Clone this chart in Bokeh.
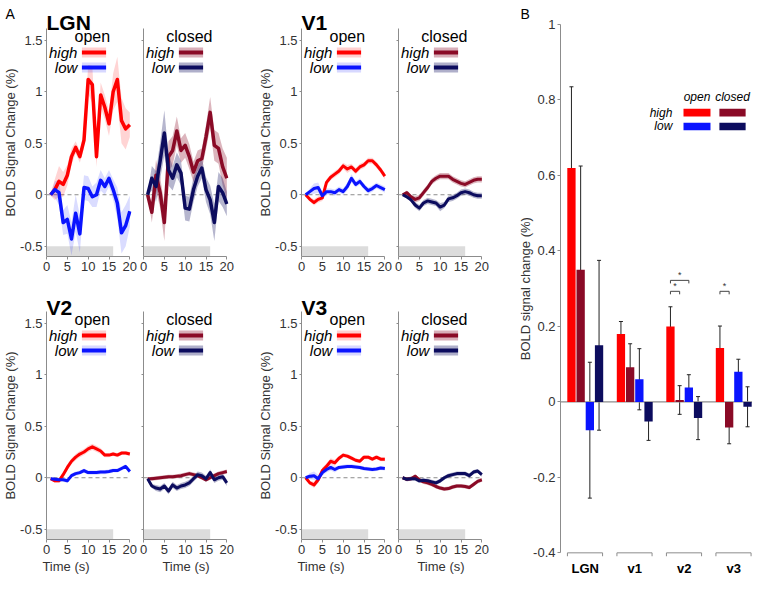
import math
from bokeh.plotting import figure
from bokeh.layouts import row, column
from bokeh.models import (Range1d, FixedTicker, CustomJSTickFormatter,
                          ColumnDataSource, Whisker, TeeHead)
from bokeh.embed import file_html
from bokeh.resources import INLINE
from bokeh.core.properties import value

FONT = "Liberation Sans"

# ---------------- data: time courses (panel A) ----------------
TIME = list(range(1, 21))
STIM_ON = [0, 16]
X_TICKS = [0, 5, 10, 15, 20]
Y_TICKS = [-0.5, 0, 0.5, 1, 1.5]

lgn_open_high = [0, 0.05, 0.13, 0.10, 0.19, 0.37, 0.46, 0.37, 0.53, 1.12, 1.07, 0.37, 0.97, 0.85, 0.69, 1.00, 1.12, 0.72, 0.64, 0.68]
lgn_open_high_sem = [0.01, 0.10, 0.15, 0.12, 0.10, 0.08, 0.06, 0.06, 0.08, 0.14, 0.18, 0.10, 0.12, 0.12, 0.12, 0.18, 0.22, 0.22, 0.20, 0.12]
lgn_open_low = [0, 0.05, 0.02, -0.27, -0.24, -0.43, -0.18, -0.38, 0.07, 0.06, -0.02, 0.00, 0.14, 0.08, 0.16, 0.05, -0.08, -0.37, -0.30, -0.16]
lgn_open_low_sem = [0.01, 0.08, 0.12, 0.12, 0.14, 0.16, 0.18, 0.18, 0.12, 0.12, 0.10, 0.12, 0.10, 0.08, 0.08, 0.10, 0.15, 0.20, 0.20, 0.15]
lgn_closed_high = [0, -0.17, 0.19, 0.02, -0.27, 0.37, 0.43, 0.62, 0.43, 0.48, 0.37, 0.22, 0.33, 0.35, 0.56, 0.80, 0.48, 0.45, 0.27, 0.16]
lgn_closed_high_sem = [0.01, 0.10, 0.15, 0.15, 0.18, 0.15, 0.14, 0.14, 0.12, 0.12, 0.12, 0.10, 0.10, 0.10, 0.12, 0.15, 0.15, 0.15, 0.18, 0.20]
lgn_closed_low = [0, 0.16, 0.08, 0.33, 0.60, 0.24, 0.16, 0.29, 0.21, -0.13, -0.14, 0.05, 0.18, 0.26, 0.05, -0.05, -0.27, 0.08, 0.02, -0.09]
lgn_closed_low_sem = [0.01, 0.12, 0.15, 0.18, 0.22, 0.15, 0.12, 0.12, 0.12, 0.12, 0.12, 0.12, 0.10, 0.10, 0.12, 0.14, 0.18, 0.14, 0.14, 0.12]

v1_open_high = [0, -0.045, -0.075, -0.045, -0.03, 0.12, 0.17, 0.20, 0.23, 0.28, 0.25, 0.27, 0.23, 0.27, 0.29, 0.33, 0.33, 0.29, 0.24, 0.18]
v1_open_high_sem = [0.01, 0.02, 0.03, 0.03, 0.03, 0.03, 0.03, 0.03, 0.03, 0.03, 0.04, 0.03, 0.03, 0.03, 0.03, 0.03, 0.03, 0.03, 0.03, 0.03]
v1_open_low = [0, 0.03, 0.06, 0.07, -0.01, 0.03, 0.03, 0.02, 0.05, 0.03, 0.08, 0.16, 0.10, 0.13, 0.08, 0.04, 0.06, 0.09, 0.07, 0.05]
v1_open_low_sem = [0.01, 0.03, 0.05, 0.05, 0.04, 0.03, 0.03, 0.03, 0.03, 0.03, 0.04, 0.04, 0.03, 0.03, 0.03, 0.03, 0.03, 0.03, 0.03, 0.03]
v1_closed_high = [0, 0.02, -0.02, -0.045, -0.03, 0.02, 0.07, 0.13, 0.16, 0.18, 0.18, 0.18, 0.15, 0.13, 0.11, 0.10, 0.12, 0.14, 0.15, 0.15]
v1_closed_high_sem = [0.01, 0.02, 0.02, 0.03, 0.03, 0.03, 0.03, 0.03, 0.03, 0.03, 0.03, 0.03, 0.03, 0.03, 0.03, 0.03, 0.03, 0.03, 0.03, 0.03]
v1_closed_low = [0, -0.02, -0.05, -0.10, -0.13, -0.08, -0.06, -0.07, -0.08, -0.12, -0.10, -0.04, -0.03, -0.01, 0.02, 0.03, 0.02, 0.00, -0.01, -0.01]
v1_closed_low_sem = [0.01, 0.02, 0.02, 0.03, 0.03, 0.03, 0.03, 0.03, 0.03, 0.04, 0.03, 0.03, 0.03, 0.03, 0.03, 0.03, 0.03, 0.03, 0.03, 0.03]

v2_open_high = [-0.01, -0.03, -0.03, 0.03, 0.10, 0.16, 0.20, 0.23, 0.25, 0.28, 0.30, 0.28, 0.26, 0.22, 0.22, 0.23, 0.22, 0.24, 0.24, 0.23]
v2_open_high_sem = [0.01, 0.02, 0.02, 0.02, 0.03, 0.03, 0.03, 0.03, 0.03, 0.03, 0.03, 0.03, 0.03, 0.02, 0.02, 0.02, 0.02, 0.02, 0.02, 0.02]
v2_open_low = [-0.01, -0.015, -0.02, -0.02, -0.03, 0.02, 0.04, 0.05, 0.07, 0.05, 0.05, 0.05, 0.055, 0.055, 0.06, 0.07, 0.07, 0.09, 0.11, 0.06]
v2_open_low_sem = [0.01, 0.02, 0.02, 0.02, 0.02, 0.02, 0.02, 0.02, 0.02, 0.02, 0.02, 0.02, 0.02, 0.02, 0.02, 0.02, 0.02, 0.02, 0.02, 0.02]
v2_closed_high = [-0.01, -0.01, -0.005, 0.0, 0.005, 0.01, 0.01, 0.015, 0.02, 0.03, 0.04, 0.03, 0.02, 0.0, -0.02, 0.0, 0.02, 0.04, 0.05, 0.06]
v2_closed_high_sem = [0.01, 0.02, 0.02, 0.02, 0.02, 0.02, 0.02, 0.02, 0.02, 0.02, 0.02, 0.02, 0.02, 0.02, 0.02, 0.02, 0.02, 0.02, 0.02, 0.02]
v2_closed_low = [-0.01, -0.08, -0.10, -0.11, -0.08, -0.13, -0.07, -0.10, -0.08, -0.07, -0.05, -0.01, 0.03, 0.02, -0.01, 0.05, -0.02, 0.0, 0.01, -0.05]
v2_closed_low_sem = [0.01, 0.02, 0.03, 0.03, 0.03, 0.03, 0.03, 0.03, 0.03, 0.03, 0.03, 0.03, 0.03, 0.03, 0.03, 0.03, 0.03, 0.03, 0.03, 0.03]

v3_open_high = [0, -0.05, -0.07, -0.02, 0.07, 0.11, 0.16, 0.145, 0.19, 0.22, 0.21, 0.19, 0.17, 0.16, 0.20, 0.20, 0.18, 0.20, 0.18, 0.18]
v3_open_high_sem = [0.01, 0.02, 0.03, 0.03, 0.03, 0.03, 0.03, 0.03, 0.02, 0.02, 0.02, 0.02, 0.02, 0.02, 0.02, 0.02, 0.02, 0.02, 0.02, 0.02]
v3_open_low = [0, 0.015, 0.02, -0.01, 0.05, 0.08, 0.10, 0.08, 0.10, 0.105, 0.11, 0.11, 0.105, 0.10, 0.09, 0.085, 0.08, 0.085, 0.095, 0.09]
v3_open_low_sem = [0.01, 0.03, 0.04, 0.04, 0.03, 0.03, 0.03, 0.03, 0.02, 0.02, 0.02, 0.02, 0.02, 0.02, 0.02, 0.02, 0.02, 0.02, 0.02, 0.02]
v3_closed_high = [0, -0.015, -0.01, 0.015, -0.02, -0.04, -0.05, -0.065, -0.085, -0.10, -0.11, -0.105, -0.09, -0.08, -0.08, -0.085, -0.095, -0.065, -0.035, -0.02]
v3_closed_high_sem = [0.01, 0.02, 0.02, 0.02, 0.02, 0.02, 0.02, 0.02, 0.02, 0.02, 0.02, 0.02, 0.02, 0.02, 0.02, 0.02, 0.02, 0.02, 0.02, 0.02]
v3_closed_low = [0, -0.015, -0.01, -0.01, -0.03, -0.025, -0.03, -0.04, -0.05, -0.03, 0.0, 0.02, 0.03, 0.04, 0.04, 0.04, 0.02, 0.055, 0.065, 0.03]
v3_closed_low_sem = [0.01, 0.02, 0.02, 0.02, 0.02, 0.02, 0.02, 0.02, 0.02, 0.02, 0.02, 0.02, 0.02, 0.02, 0.02, 0.02, 0.02, 0.02, 0.02, 0.02]

# ---------------- data: bar chart (panel B) ----------------
REGIONS = ["LGN", "v1", "v2", "v3"]
open_high = [0.62, 0.18, 0.20, 0.143]
open_high_err = [0.215, 0.033, 0.052, 0.058]
closed_high = [0.35, 0.092, 0.005, -0.068]
closed_high_err = [0.275, 0.062, 0.038, 0.043]
open_low = [-0.075, 0.06, 0.038, 0.08]
open_low_err = [0.18, 0.081, 0.034, 0.033]
closed_low = [0.15, -0.052, -0.043, -0.013]
closed_low_err = [0.225, 0.05, 0.057, 0.053]
B_Y_TICKS = [-0.4, -0.2, 0, 0.2, 0.4, 0.6, 0.8, 1]
# significance brackets: (region index, bar a, bar b, height)
SIG = [(2, 0, 1, 0.293), (2, 0, 2, 0.322), (3, 0, 1, 0.293)]

C_OPEN_HIGH = "#ff0000"
C_CLOSED_HIGH = "#8a0a26"
C_OPEN_LOW = "#0a14ff"
C_CLOSED_LOW = "#0c0c5e"
AXIS_C = "#8c8c8c"
TXT_C = "#333333"

# ---------------- geometry of the small panels ----------------
Y_BOT = -0.6
Y_SPINE_TOP = 1.615
X_END = 20.4
PXU = 85 / X_END                      # px per second
PXY = 228 / (Y_SPINE_TOP - Y_BOT)     # px per % signal
LEFT_AX = 46                          # px left of the y axis (open panels)
TOP_GAP = 28                          # px above the top of the y axis
COND_DY = 8                           # px below axis top: "open"/"closed"
LEG_DY = [24, 39]                     # px below axis top: "high"/"low" rows


def style_axes(p):
    for ax in list(p.xaxis) + list(p.yaxis):
        ax.axis_line_color = AXIS_C
        ax.major_tick_line_color = AXIS_C
        ax.minor_tick_line_color = None
        ax.minor_tick_out = 0
        ax.minor_tick_in = 0
        ax.major_tick_in = 0
        ax.major_label_text_font = FONT
        ax.major_label_text_font_size = "13px"
        ax.major_label_text_color = TXT_C
        ax.axis_label_text_font = FONT
        ax.axis_label_text_font_size = "13px"
        ax.axis_label_text_color = TXT_C
        ax.axis_label_text_font_style = "normal"


def txt(p, x, y, s, size, style="normal", align="left", baseline="alphabetic",
        color="black", angle=0.0):
    p.text(x=[x], y=[y], text=[s], text_align=align, text_baseline=baseline,
           text_font=value(FONT), text_font_size=size, text_font_style=style,
           text_color=color, angle=angle)


def time_panel(region, cond, hi, hi_sem, lo, lo_sem, c_hi, c_lo, a_hi, a_lo,
               lw, bottom_row, is_open, right_border, letter=None):
    y_top = Y_SPINE_TOP + TOP_GAP / PXY
    x_left = -LEFT_AX / PXU if is_open else 0
    p = figure(frame_width=int(round((X_END - x_left) * PXU)),
               frame_height=int(round((y_top - Y_BOT) * PXY)),
               min_border_left=0 if is_open else 5,
               min_border_right=right_border,
               min_border_top=0,
               min_border_bottom=37 if bottom_row else 27,
               x_range=Range1d(x_left, X_END), y_range=Range1d(Y_BOT, y_top),
               output_backend="svg", toolbar_location=None, tools="")
    p.grid.visible = False
    p.outline_line_color = None
    p.quad(left=[STIM_ON[0]], right=[STIM_ON[1]], bottom=[Y_BOT], top=[-0.5],
           fill_color="#dcdcdc", line_color=None)
    p.line([X_TICKS[0], X_TICKS[-1]], [0, 0], line_color=AXIS_C, line_dash="4 3", line_width=1)
    for m, s, c, a in ((hi, hi_sem, c_hi, a_hi), (lo, lo_sem, c_lo, a_lo)):
        p.varea(x=TIME, y1=[v - e for v, e in zip(m, s)],
                y2=[v + e for v, e in zip(m, s)], fill_color=c, fill_alpha=a)
    for m, c in ((hi, c_hi), (lo, c_lo)):
        p.line(TIME, m, line_color=c, line_width=lw, line_join="round")
    # legend
    leg_x = [8.5, 14.3]
    for dy, c, a, t in ((LEG_DY[0], c_hi, a_hi, "high"), (LEG_DY[1], c_lo, a_lo, "low")):
        y = Y_SPINE_TOP - dy / PXY
        p.line(leg_x, [y, y], line_color=c, line_alpha=min(1, a * 1.1), line_width=10)
        p.line(leg_x, [y, y], line_color=c, line_width=4)
        txt(p, 7.4, y, t, "15px", style="italic", align="right", baseline="middle")
    txt(p, 11, Y_SPINE_TOP - COND_DY / PXY, cond, "16px", align="center", baseline="middle")
    if region:
        base = 24 if bottom_row else 22
        txt(p, 0, y_top - base / PXY, region, "21px", style="bold")
    if letter:
        txt(p, x_left + 5 / PXU, y_top - 13 / PXY, letter, "14px")
    p.xaxis.ticker = FixedTicker(ticks=X_TICKS)
    p.xaxis.bounds = (X_TICKS[0], X_TICKS[-1])
    p.yaxis.ticker = FixedTicker(ticks=Y_TICKS)
    p.yaxis.bounds = (Y_BOT, Y_SPINE_TOP)
    style_axes(p)
    p.xaxis.major_tick_out = 3
    p.xaxis.major_label_standoff = 2
    p.yaxis.major_tick_out = 2
    p.yaxis.major_label_standoff = 2
    if is_open:
        p.yaxis.fixed_location = 0
        p.yaxis.formatter = CustomJSTickFormatter(code="return tick.toString();")
        # y-axis title beside the axis, at the left edge of the panel
        txt(p, x_left + 10 / PXU, (Y_BOT + Y_SPINE_TOP) / 2, "BOLD Signal Change (%)", "13px",
            align="center", baseline="middle", color=TXT_C, angle=math.pi / 2)
    else:
        p.yaxis.formatter = CustomJSTickFormatter(code="return '';")
    if bottom_row:
        p.xaxis.axis_label = "Time (s)"
        p.xaxis.axis_label_standoff = 2
    return p


A_HI, A_LO, A_CHI, A_CLO = 0.17, 0.15, 0.3, 0.3

a1 = time_panel("LGN", "open", lgn_open_high, lgn_open_high_sem, lgn_open_low, lgn_open_low_sem,
                C_OPEN_HIGH, C_OPEN_LOW, A_HI, A_LO, 3.5, False, True, 7, letter="A")
a2 = time_panel(None, "closed", lgn_closed_high, lgn_closed_high_sem, lgn_closed_low, lgn_closed_low_sem,
                C_CLOSED_HIGH, C_CLOSED_LOW, A_CHI, A_CLO, 3.5, False, False, 27)
a3 = time_panel("V1", "open", v1_open_high, v1_open_high_sem, v1_open_low, v1_open_low_sem,
                C_OPEN_HIGH, C_OPEN_LOW, A_HI, A_LO, 3, False, True, 7)
a4 = time_panel(None, "closed", v1_closed_high, v1_closed_high_sem, v1_closed_low, v1_closed_low_sem,
                C_CLOSED_HIGH, C_CLOSED_LOW, A_CHI, A_CLO, 3, False, False, 31)
a5 = time_panel("V2", "open", v2_open_high, v2_open_high_sem, v2_open_low, v2_open_low_sem,
                C_OPEN_HIGH, C_OPEN_LOW, A_HI, A_LO, 3, True, True, 7)
a6 = time_panel(None, "closed", v2_closed_high, v2_closed_high_sem, v2_closed_low, v2_closed_low_sem,
                C_CLOSED_HIGH, C_CLOSED_LOW, A_CHI, A_CLO, 3, True, False, 27)
a7 = time_panel("V3", "open", v3_open_high, v3_open_high_sem, v3_open_low, v3_open_low_sem,
                C_OPEN_HIGH, C_OPEN_LOW, A_HI, A_LO, 3, True, True, 7)
a8 = time_panel(None, "closed", v3_closed_high, v3_closed_high_sem, v3_closed_low, v3_closed_low_sem,
                C_CLOSED_HIGH, C_CLOSED_LOW, A_CHI, A_CLO, 3, True, False, 31)

# ---------------- panel B ----------------
PXB = 49.5           # px per group
PYB = 528 / 1.4      # px per % signal
B_LEFT = 46          # px left of the y axis
B_AX_X = -0.5
B_TOP_GAP = 24
B_Y_BOT = -0.415
B_WIDTH = 238
xl_b = B_AX_X - B_LEFT / PXB
xr_b = xl_b + B_WIDTH / PXB
yt_b = B_Y_TICKS[-1] + B_TOP_GAP / PYB
pb = figure(frame_width=B_WIDTH,
            frame_height=int(round((yt_b - B_Y_BOT) * PYB)),
            min_border_left=0, min_border_right=0,
            min_border_top=0, min_border_bottom=19,
            x_range=Range1d(xl_b, xr_b), y_range=Range1d(B_Y_BOT, yt_b),
            output_backend="svg", toolbar_location=None, tools="")
pb.grid.visible = False
pb.outline_line_color = None
pb.line([B_AX_X, xr_b], [0, 0], line_color=AXIS_C, line_width=1.2)

PITCH = 9.2 / PXB
BW = 8.3 / PXB
BAR_OFF = [-1.5, -0.5, 0.5, 1.5]
series = [(open_high, open_high_err, C_OPEN_HIGH),
          (closed_high, closed_high_err, C_CLOSED_HIGH),
          (open_low, open_low_err, C_OPEN_LOW),
          (closed_low, closed_low_err, C_CLOSED_LOW)]
bar_x = []
for k, (vals, errs, c) in enumerate(series):
    xs = [i + BAR_OFF[k] * PITCH for i in range(len(REGIONS))]
    bar_x.append(xs)
    pb.vbar(x=xs, top=vals, bottom=0, width=BW, fill_color=c, line_color=None)
for k, (vals, errs, c) in enumerate(series):
    src = ColumnDataSource(dict(base=bar_x[k],
                                upper=[v + e for v, e in zip(vals, errs)],
                                lower=[v - e for v, e in zip(vals, errs)]))
    pb.add_layout(Whisker(source=src, base="base", upper="upper", lower="lower",
                          line_color="#222222", line_width=1,
                          upper_head=TeeHead(size=4, line_color="#222222", line_width=1),
                          lower_head=TeeHead(size=4, line_color="#222222", line_width=1)))

# group brackets under the axis
gx, gy = [], []
for i in range(len(REGIONS)):
    gx.append([i - 0.36, i - 0.36, i + 0.35, i + 0.35])
    gy.append([-0.409, -0.4, -0.4, -0.409])
pb.multi_line(gx, gy, line_color=AXIS_C, line_width=1)

# significance brackets
sx, sy, stx, sty = [], [], [], []
for g, a, b, h in SIG:
    xa, xb = bar_x[a][g], bar_x[b][g]
    sx.append([xa, xa, xb, xb])
    sy.append([h - 0.008, h, h, h - 0.008])
    stx.append((xa + xb) / 2)
    sty.append(h + 0.001)
pb.multi_line(sx, sy, line_color="#444444", line_width=1)
pb.text(x=stx, y=sty, text=["*"] * len(stx), text_align="center", text_baseline="bottom",
        text_font=value(FONT), text_font_size="9px", text_color="#333333")

# legend of panel B
LB_COLS = [(1.985, 2.53, "open"), (2.71, 3.24, "closed")]
LB_ROWS = [(0.756, 0.777, "high"), (0.720, 0.740, "low")]
sw_cols = [[C_OPEN_HIGH, C_CLOSED_HIGH], [C_OPEN_LOW, C_CLOSED_LOW]]
for r, (b0, b1, rt) in enumerate(LB_ROWS):
    for cidx, (x0, x1, ct) in enumerate(LB_COLS):
        pb.quad(left=[x0], right=[x1], bottom=[b0], top=[b1],
                fill_color=sw_cols[r][cidx], line_color=None)
    txt(pb, 1.76, (b0 + b1) / 2, rt, "12px", style="italic", align="right", baseline="middle")
for x0, x1, ct in LB_COLS:
    txt(pb, (x0 + x1) / 2, 0.809, ct, "12px", style="italic", align="center", baseline="middle")

txt(pb, xl_b + 6 / PXB, yt_b - 13 / PYB, "B", "14px")
txt(pb, xl_b + 11 / PXB, (B_Y_TICKS[0] + B_Y_TICKS[-1]) / 2, "BOLD signal change (%)", "13px",
    align="center", baseline="middle", color=TXT_C, angle=math.pi / 2)

pb.yaxis.ticker = FixedTicker(ticks=B_Y_TICKS)
pb.yaxis.bounds = (B_Y_TICKS[0], B_Y_TICKS[-1])
pb.yaxis.fixed_location = B_AX_X
pb.yaxis.formatter = CustomJSTickFormatter(code="return tick.toString();")
pb.xaxis.ticker = FixedTicker(ticks=list(range(len(REGIONS))))
pb.xaxis.major_label_overrides = {i: r for i, r in enumerate(REGIONS)}
style_axes(pb)
pb.yaxis.major_tick_out = 3
pb.yaxis.major_label_standoff = 2
pb.xaxis.axis_line_color = None
pb.xaxis.major_tick_line_color = None
pb.xaxis.major_tick_out = 0
pb.xaxis.major_label_standoff = 2
pb.xaxis.major_label_text_font_style = "bold"
pb.xaxis.major_label_text_color = "black"

layout = row(column(row(a1, a2, a3, a4), row(a5, a6, a7, a8)), pb)
open("out.html", "w").write(file_html(layout, INLINE))
